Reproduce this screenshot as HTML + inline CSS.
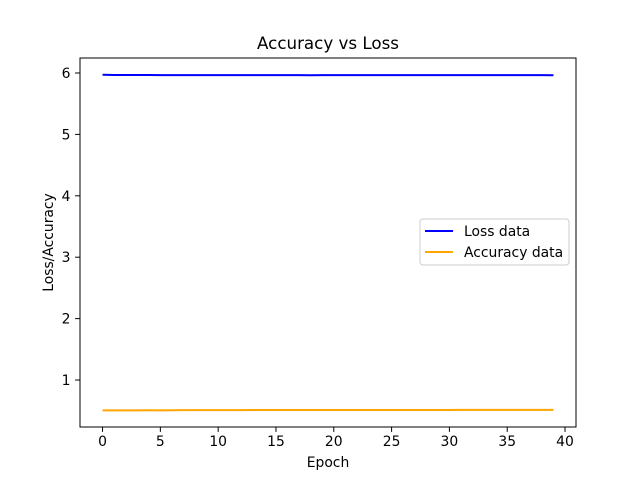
<!DOCTYPE html>
<html><head><meta charset="utf-8"><style>
body{margin:0;background:#fff;}
svg text{font-family:"DejaVu Sans","Liberation Sans",sans-serif;fill:#000;}
</style></head><body>
<svg id="chart" width="640" height="480" xmlns="http://www.w3.org/2000/svg">
<rect width="640" height="480" fill="#fff"/>
<g id="plot"></g>
</svg>
<script>
const epochs = Array.from({length:40},(_,i)=>i);
const lossData = [5.972,5.968,5.967,5.967,5.967,5.966,5.966,5.966,5.966,5.966,5.966,5.966,5.965,5.965,5.965,5.965,5.965,5.965,5.964,5.965,5.965,5.965,5.965,5.965,5.965,5.965,5.965,5.965,5.965,5.965,5.965,5.965,5.965,5.965,5.965,5.965,5.965,5.965,5.965,5.964];
const accData = [0.505,0.505,0.505,0.506,0.507,0.506,0.508,0.509,0.510,0.510,0.510,0.510,0.510,0.511,0.511,0.511,0.512,0.512,0.512,0.512,0.512,0.512,0.512,0.512,0.512,0.512,0.512,0.512,0.512,0.512,0.512,0.513,0.513,0.513,0.513,0.513,0.513,0.513,0.513,0.513];
const xTicks = [0,5,10,15,20,25,30,35,40];
const yTicks = [1,2,3,4,5,6];

const L=80,R=576,T=58,B=427;
const xMin=-1.95,xMax=40.95,yMin=0.235,yMax=6.244;
const X=v=>L+(v-xMin)/(xMax-xMin)*(R-L);
const Y=v=>B-(v-yMin)/(yMax-yMin)*(B-T);
const NS="http://www.w3.org/2000/svg";
const g=document.getElementById('plot');
const FS=13.9;
function mk(tag,attrs,parent){const e=document.createElementNS(NS,tag);for(const k in attrs)e.setAttribute(k,attrs[k]);(parent||g).appendChild(e);return e;}

const frame=mk('rect',{x:L,y:T,width:R-L,height:B-T,fill:'none',stroke:'#000','stroke-width':1});



xTicks.forEach(t=>{
  const x=X(t);
  const l=mk('line',{x1:x,x2:x,y1:B,y2:B+4.9,stroke:'#000','stroke-width':1});
  
  
  const tx=mk('text',{x:x,y:B+19,'text-anchor':'middle','font-size':FS});
  tx.textContent=t;
  
  
});
yTicks.forEach(t=>{
  const y=Y(t);
  const l=mk('line',{x1:L-4.9,x2:L,y1:y,y2:y,stroke:'#000','stroke-width':1});
  
  
  const tx=mk('text',{x:L-9.5,y:y+5,'text-anchor':'end','font-size':FS});
  tx.textContent=t;
  
  
});

function series(data,color,name){
  const p=mk('polyline',{points:data.map((v,i)=>X(epochs[i])+','+Y(v)).join(' '),fill:'none',stroke:color,'stroke-width':2});
  
  
}
series(lossData,'#0000ff','loss-line');
series(accData,'#ffa500','accuracy-line');

const title=mk('text',{x:(L+R)/2,y:49,'text-anchor':'middle','font-size':16.7});
title.textContent='Accuracy vs Loss';


const xl=mk('text',{x:(L+R)/2,y:467,'text-anchor':'middle','font-size':FS});
xl.textContent='Epoch';


const yl=mk('text',{x:0,y:0,'text-anchor':'middle','font-size':FS,transform:'translate(53,'+((T+B)/2)+') rotate(-90)'});
yl.textContent='Loss/Accuracy';



const leg=mk('g',{});


mk('rect',{x:420,y:219,width:149,height:46,rx:3,fill:'#fff','fill-opacity':0.8,stroke:'#ccc','stroke-width':1},leg);
[['Loss data','#0000ff',231],['Accuracy data','#ffa500',252]].forEach(([n,c,y])=>{
  const e=mk('g',{},leg);
  
  
  mk('line',{x1:425,x2:453,y1:y,y2:y,stroke:c,'stroke-width':2},e);
  const t=mk('text',{x:464,y:y+5,'font-size':FS},e);
  t.textContent=n;
});
</script>
</body></html>
